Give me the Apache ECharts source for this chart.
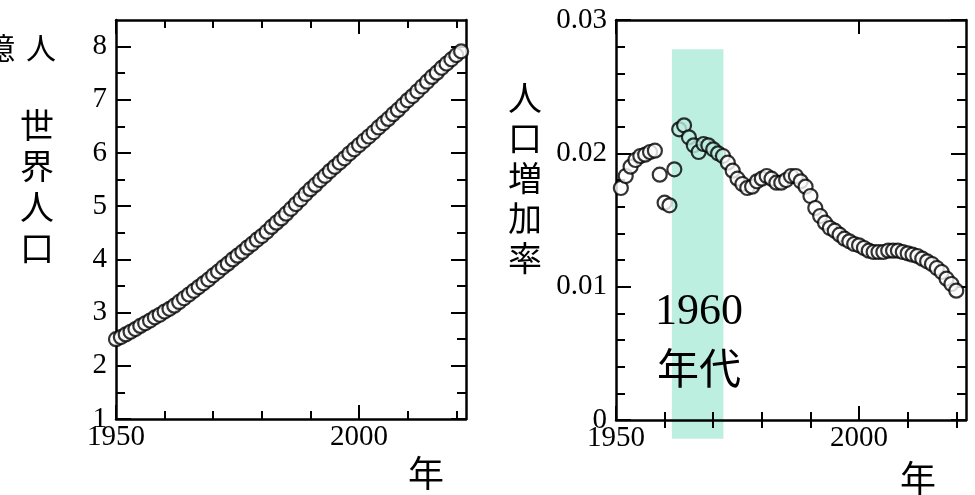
<!DOCTYPE html>
<html>
<head>
<meta charset="utf-8">
<script src="https://cdn.jsdelivr.net/npm/echarts@6/dist/echarts.min.js"></script>
<style>
  html, body { margin: 0; padding: 0; background: #fff; }
  #chart { width: 975px; height: 495px; }
</style>
</head>
<body>
<div id="chart"></div>
<script>
// world population (billions), 1950-2021
const popYears = [1950, 1951, 1952, 1953, 1954, 1955, 1956, 1957, 1958, 1959,
  1960, 1961, 1962, 1963, 1964, 1965, 1966, 1967, 1968, 1969,
  1970, 1971, 1972, 1973, 1974, 1975, 1976, 1977, 1978, 1979,
  1980, 1981, 1982, 1983, 1984, 1985, 1986, 1987, 1988, 1989,
  1990, 1991, 1992, 1993, 1994, 1995, 1996, 1997, 1998, 1999,
  2000, 2001, 2002, 2003, 2004, 2005, 2006, 2007, 2008, 2009,
  2010, 2011, 2012, 2013, 2014, 2015, 2016, 2017, 2018, 2019,
  2020, 2021];
const population = [2.50, 2.54, 2.59, 2.64, 2.69, 2.75, 2.80, 2.85, 2.91, 2.96,
  3.02, 3.07, 3.13, 3.20, 3.27, 3.34, 3.41, 3.48, 3.55, 3.62,
  3.70, 3.77, 3.85, 3.92, 4.00, 4.07, 4.14, 4.22, 4.29, 4.37,
  4.44, 4.52, 4.61, 4.69, 4.77, 4.86, 4.95, 5.04, 5.13, 5.23,
  5.32, 5.40, 5.49, 5.57, 5.66, 5.74, 5.82, 5.90, 5.99, 6.07,
  6.15, 6.23, 6.31, 6.39, 6.48, 6.56, 6.64, 6.73, 6.81, 6.90,
  6.99, 7.07, 7.16, 7.25, 7.34, 7.43, 7.51, 7.60, 7.68, 7.76,
  7.84, 7.91];

// annual growth rate, 1951-2020
const rateYears = [1951, 1952, 1953, 1954, 1955, 1956, 1957, 1958, 1959,
  1960, 1961, 1962, 1963, 1964, 1965, 1966, 1967, 1968, 1969,
  1970, 1971, 1972, 1973, 1974, 1975, 1976, 1977, 1978, 1979,
  1980, 1981, 1982, 1983, 1984, 1985, 1986, 1987, 1988, 1989,
  1990, 1991, 1992, 1993, 1994, 1995, 1996, 1997, 1998, 1999,
  2000, 2001, 2002, 2003, 2004, 2005, 2006, 2007, 2008, 2009,
  2010, 2011, 2012, 2013, 2014, 2015, 2016, 2017, 2018, 2019,
  2020];
const growthRate = [0.0174, 0.0183, 0.0190, 0.0195, 0.0198, 0.0199, 0.0201, 0.0202, 0.0184,
  0.0163, 0.0161, 0.0188, 0.0218, 0.0221, 0.0212, 0.0206, 0.0201, 0.0207, 0.0206,
  0.0203, 0.0200, 0.0198, 0.0193, 0.0187, 0.0181, 0.0177, 0.0174, 0.0175, 0.0179,
  0.0181, 0.0183, 0.0181, 0.0178, 0.0178, 0.0180, 0.0183, 0.0183, 0.0179, 0.0175,
  0.0168, 0.0159, 0.0153, 0.0148, 0.0144, 0.0142, 0.0139, 0.0136, 0.0134, 0.0132,
  0.0131, 0.0129, 0.0127, 0.0126, 0.0126, 0.0126, 0.0127, 0.0127, 0.0127, 0.0126,
  0.0125, 0.0124, 0.0123, 0.0121, 0.0119, 0.0117, 0.0114, 0.0111, 0.0106, 0.0102,
  0.0097];

// highlighted 1960s band: [start year, end year, bottom, top]
const band = [1961.5, 1972.1, -0.0014, 0.0278];

const xRange = [1950, 2022];
const xMajor = [1950, 2000];
const xMinor = [1960, 1970, 1980, 1990, 2010, 2020];
const popRange = [1, 8.5];
const popMajor = [1, 2, 3, 4, 5, 6, 7, 8];
const popMinor = [1.5, 2.5, 3.5, 4.5, 5.5, 6.5, 7.5];
const rateRange = [0, 0.03];
const rateMajor = [0, 0.01, 0.02, 0.03];
const rateMinor = [0.002, 0.004, 0.006, 0.008, 0.012, 0.014, 0.016, 0.018,
  0.022, 0.024, 0.026, 0.028];

const serif = 'Liberation Serif';
const cjk = 'Noto Sans CJK JP';

// each side of a frame: one axis for long ticks (+labels), one for short ticks
function axisPair(grid, pos, range, major, minor, majorLen, minorLen, labels) {
  const base = {
    type: 'value', gridIndex: grid, position: pos,
    min: range[0], max: range[1],
    splitLine: { show: false }
  };
  return [
    Object.assign({}, base, {
      axisLine: { show: true, onZero: false, lineStyle: { color: '#000', width: 2.5 } },
      axisTick: { show: true, inside: true, length: majorLen, customValues: major,
        lineStyle: { color: '#000', width: 2 } },
      axisLabel: labels ? {
        show: true, customValues: labels, color: '#000',
        fontFamily: serif, fontSize: 29,
        margin: pos === 'bottom' ? 4 : 9,
        formatter: v => String(v)
      } : { show: false }
    }),
    Object.assign({}, base, {
      axisLine: { show: false },
      axisTick: { show: true, inside: true, length: minorLen, customValues: minor,
        lineStyle: { color: '#000', width: 2 } },
      axisLabel: { show: false }
    })
  ];
}

const xAxes = [].concat(
  axisPair(0, 'bottom', xRange, xMajor, xMinor, 14, 8, xMajor),
  axisPair(0, 'top', xRange, xMajor, xMinor, 14, 8, null),
  axisPair(1, 'bottom', xRange, xMajor, xMinor, 14, 8, xMajor),
  axisPair(1, 'top', xRange, xMajor, xMinor, 14, 8, null)
);
const yAxes = [].concat(
  axisPair(0, 'left', popRange, popMajor, popMinor, 15, 9, popMajor),
  axisPair(0, 'right', popRange, popMajor, popMinor, 15, 9, null),
  axisPair(1, 'left', rateRange, rateMajor, rateMinor, 15, 9, rateMajor),
  axisPair(1, 'right', rateRange, rateMajor, rateMinor, 15, 9, null)
);

const dot = {
  color: '#fff',
  borderColor: '#000',
  borderWidth: 2.2
};

const chart = echarts.init(document.getElementById('chart'));
chart.setOption({
  animation: false,
  backgroundColor: '#fff',
  grid: [
    { left: 116, top: 20, width: 350, height: 399, outerBoundsMode: 'none' },
    { left: 616, top: 20, width: 350, height: 400, outerBoundsMode: 'none' }
  ],
  xAxis: xAxes,
  yAxis: yAxes,
  series: [
    {
      type: 'scatter',
      xAxisIndex: 0, yAxisIndex: 0,
      symbol: 'circle', symbolSize: 14,
      itemStyle: dot,
      data: popYears.map((y, i) => [y, population[i]]),
      z: 2
    },
    {
      type: 'scatter',
      xAxisIndex: 4, yAxisIndex: 4,
      symbol: 'circle', symbolSize: 14,
      itemStyle: dot,
      data: rateYears.map((y, i) => [y, growthRate[i]]),
      z: 2
    },
    {
      type: 'custom',
      xAxisIndex: 4, yAxisIndex: 4,
      silent: true,
      clip: false,
      z: 5,
      blendMode: 'multiply',
      data: [band],
      encode: { x: [0, 1], y: [2, 3] },
      renderItem: function (params, api) {
        const p0 = api.coord([api.value(0), api.value(3)]);
        const p1 = api.coord([api.value(1), api.value(2)]);
        return {
          type: 'rect',
          shape: { x: p0[0], y: p0[1], width: p1[0] - p0[0], height: p1[1] - p0[1] },
          style: { fill: '#bdefe0' }
        };
      }
    }
  ],
  graphic: [
    { type: 'text', z: 10, style: { text: '億', x: 0, y: 48, fontSize: 30, fontFamily: cjk, fill: '#000', textAlign: 'center', textVerticalAlign: 'middle' } },
    { type: 'text', z: 10, style: { text: '人', x: 41, y: 48, fontSize: 30, fontFamily: cjk, fill: '#000', textAlign: 'center', textVerticalAlign: 'middle' } },
    { type: 'text', z: 10, style: { text: '世\n界\n人\n口', x: 37, y: 187, fontSize: 34, lineHeight: 41, fontFamily: cjk, fill: '#000', textAlign: 'center', textVerticalAlign: 'middle' } },
    { type: 'text', z: 10, style: { text: '年', x: 426, y: 473, fontSize: 36, fontFamily: cjk, fill: '#000', textAlign: 'center', textVerticalAlign: 'middle' } },
    { type: 'text', z: 10, style: { text: '人\n口\n増\n加\n率', x: 525, y: 178, fontSize: 34, lineHeight: 40, fontFamily: cjk, fill: '#000', textAlign: 'center', textVerticalAlign: 'middle' } },
    { type: 'text', z: 10, style: { text: '年', x: 918, y: 478, fontSize: 36, fontFamily: cjk, fill: '#000', textAlign: 'center', textVerticalAlign: 'middle' } },
    { type: 'text', z: 10, style: { text: '1960', x: 699, y: 312, fontSize: 44, fontFamily: serif, fill: '#000', textAlign: 'center', textVerticalAlign: 'middle' } },
    { type: 'text', z: 10, style: { text: '年代', x: 699, y: 368, fontSize: 42, fontFamily: cjk, fill: '#000', textAlign: 'center', textVerticalAlign: 'middle' } }
  ]
});
</script>
</body>
</html>
